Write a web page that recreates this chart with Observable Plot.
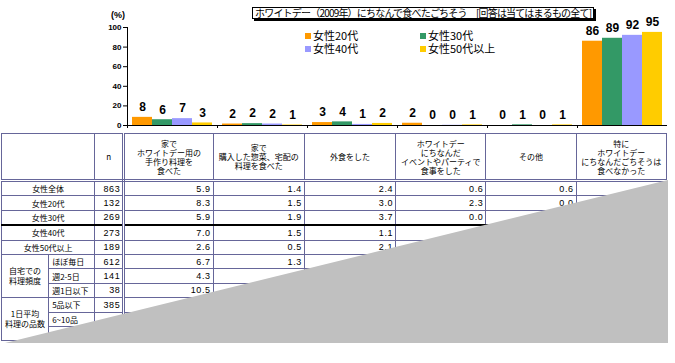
<!DOCTYPE html>
<html><head><meta charset="utf-8">
<script src="https://cdn.jsdelivr.net/npm/d3@7"></script>
<script src="https://cdn.jsdelivr.net/npm/@observablehq/plot@0.6"></script>
<style>
body{margin:0;background:#fff;}
#wrap{position:relative;width:675px;height:363px;overflow:hidden;font-family:"Noto Sans CJK JP",sans-serif;color:#000;}
#chart{position:absolute;left:0;top:0;}
#title{position:absolute;left:252px;top:7px;height:10px;line-height:10px;font-size:10px;border:1px solid #000;box-shadow:2px 2px 0 #000;background:#fff;padding:0 2px;white-space:nowrap;letter-spacing:-0.8px;}
#pct{position:absolute;left:111px;top:10px;font:bold 9px "Liberation Sans",sans-serif;}
.leg{position:absolute;font-size:11px;line-height:11px;height:11px;white-space:nowrap;}
.leg i{display:inline-block;width:6px;height:6px;margin-right:2px;vertical-align:1px;}
#tbl{position:absolute;left:1px;top:133px;width:666px;border-collapse:collapse;table-layout:fixed;font-size:8px;}
#tbl td{border:1px solid #666699;padding:0;height:13.4px;line-height:9px;overflow:hidden;white-space:nowrap;}
#tbl td.v{text-align:right;padding-right:2px;font:9px "Liberation Sans",sans-serif;letter-spacing:0.6px;}
#tbl td.l{text-align:center;}
#tbl td.s{text-align:left;padding-left:3px;}
#tbl tr.h td{height:45px;text-align:center;border-bottom:3px double #666699;}
#tbl td.n{border-right:3px double #666699;}
#tbl tr.k td{border-top:2px solid #000;}
#curl{position:absolute;left:0;top:0;width:675px;height:363px;background:#C0C0C0;clip-path:polygon(5px 343px,668px 180px,668px 343px);}
</style></head><body><div id="wrap"></div>
<script>
const categories = ["家でホワイトデー用の手作り料理を食べた","家で購入した惣菜、宅配の料理を食べた","外食をした","ホワイトデーにちなんだイベントやパーティで食事をした","その他","特にホワイトデーにちなんだごちそうは食べなかった"];
const series = ["女性20代","女性30代","女性40代","女性50代以上"];
const v20 = [8.3,1.5,3.0,2.3,0.0,86];
const v30 = [5.9,1.9,3.7,0.0,0.7,89];
const v40 = [7.0,1.5,1.1,0.2,0.0,92];
const v50 = [2.6,0.5,2.1,0.6,0.6,95];
const colors = ["#FF9900","#339966","#9999FF","#FFCC00"];
const yTicks = [0,20,40,60,80,100];
const titleText = "ホワイトデー（2009年）にちなんで食べたごちそう　[回答は当てはまるもの全て]";

// table
const headers = ["n","家で<br>ホワイトデー用の<br>手作り料理を<br>食べた","家で<br>購入した惣菜、宅配の<br>料理を食べた","外食をした","ホワイトデー<br>にちなんだ<br>イベントやパーティで<br>食事をした","その他","特に<br>ホワイトデー<br>にちなんだごちそうは<br>食べなかった"];
const rowGroups = ["","","","","","自宅での<br>料理頻度","","","1日平均<br>料理の品数","",""];
const rowLabels = ["女性全体","女性20代","女性30代","女性40代","女性50代以上","ほぼ毎日","週2-5日","週1日以下","5品以下","6~10品",""];
const nValues = ["863","132","269","273","189","612","141","38","385","",""];
const col1 = ["5.9","8.3","5.9","7.0","2.6","6.7","4.3","10.5","","",""];
const col2 = ["1.4","1.5","1.9","1.5","0.5","1.3","","","","",""];
const col3 = ["2.4","3.0","3.7","1.1","2.1","","","","","",""];
const col4 = ["0.6","2.3","0.0","","","","","","","",""];
const col5 = ["0.6","0.0","","","","","","","","",""];
const col6 = ["","","","","","","","","","",""];

const wrap = document.getElementById("wrap");
const vals = [v20,v30,v40,v50];
const data = [];
categories.forEach((c,i)=>series.forEach((s,j)=>data.push({category:c,series:s,value:vals[j][i]})));

const chart = Plot.plot({
  width:675, height:133, marginLeft:127, marginRight:8, marginTop:27, marginBottom:8,
  style:{fontFamily:"Liberation Sans, sans-serif", background:"transparent", overflow:"visible"},
  fx:{domain:categories, padding:0, axis:null},
  x:{domain:series, paddingInner:0, paddingOuter:0.2, axis:null},
  y:{domain:[0,100], axis:null},
  color:{domain:series, range:colors},
  marks:[
    Plot.barY(data,{fx:"category",x:"series",y:"value",fill:"series"}),
    Plot.ruleY([0],{stroke:"#000",strokeWidth:1}),
    Plot.frame({anchor:"left", facetAnchor:"left", stroke:"#000"}),
    Plot.text(data,{fx:"category",x:"series",y:"value",text:d=>String(Math.round(d.value)),dy:-10,fontWeight:"bold",fontSize:12,fill:"#000"}),
    Plot.axisY({ticks:yTicks,label:null,tickSize:4,tickPadding:2,fontSize:8,fontWeight:"bold",stroke:"#000",fill:"#000",letterSpacing:"1px"}),
    (index, scales, values, dim) => {
      const g = d3.create("svg:g").attr("stroke","#000").attr("stroke-width",1);
      const y0 = scales.y(0);
      const xx = dim.marginLeft + 0.5;
      g.append("line").attr("x1",xx).attr("x2",xx).attr("y1",y0).attr("y2",y0+3);
      return g.node();
    }
  ]
});
chart.id = "chart";
wrap.appendChild(chart);

const t = document.createElement("div"); t.id="title"; t.textContent = titleText; wrap.appendChild(t);
const p = document.createElement("div"); p.id="pct"; p.textContent="(%)"; wrap.appendChild(p);
const legPos = [[305,30],[420,30],[305,43],[420,43]];
series.forEach((s,i)=>{
  const d = document.createElement("div"); d.className="leg";
  d.style.left = legPos[i][0]+"px"; d.style.top = legPos[i][1]+"px";
  d.innerHTML = `<i style="background:${colors[i]}"></i>${s}`;
  wrap.appendChild(d);
});

// table
const tbl = document.createElement("table"); tbl.id="tbl";
const widths = [47,46,29,89,91,91,90,90,90];
let html = `<colgroup>` + widths.map(w=>`<col style="width:${w}px">`).join("") + `</colgroup>`;
html += `<tr class="h"><td colspan="2"></td>` + headers.map((h,i)=>`<td${i===0?' class="n"':''}>${h}</td>`).join("") + `</tr>`;
const cols = [col1,col2,col3,col4,col5,col6];
rowLabels.forEach((lab,r)=>{
  let row = `<tr${r===3?' class="k"':''}>`;
  if (r<5) row += `<td colspan="2" class="l">${lab}</td>`;
  else {
    if (rowGroups[r]) row += `<td rowspan="3" class="l" style="line-height:10px">${rowGroups[r]}</td>`;
    row += `<td class="s">${lab}</td>`;
  }
  row += `<td class="v n">${nValues[r]}</td>`;
  cols.forEach(c=>{row += `<td class="v">${c[r]}</td>`;});
  row += `</tr>`;
  html += row;
});
tbl.innerHTML = html;
wrap.appendChild(tbl);

const curl = document.createElement("div"); curl.id="curl"; wrap.appendChild(curl);
</script></body></html>
